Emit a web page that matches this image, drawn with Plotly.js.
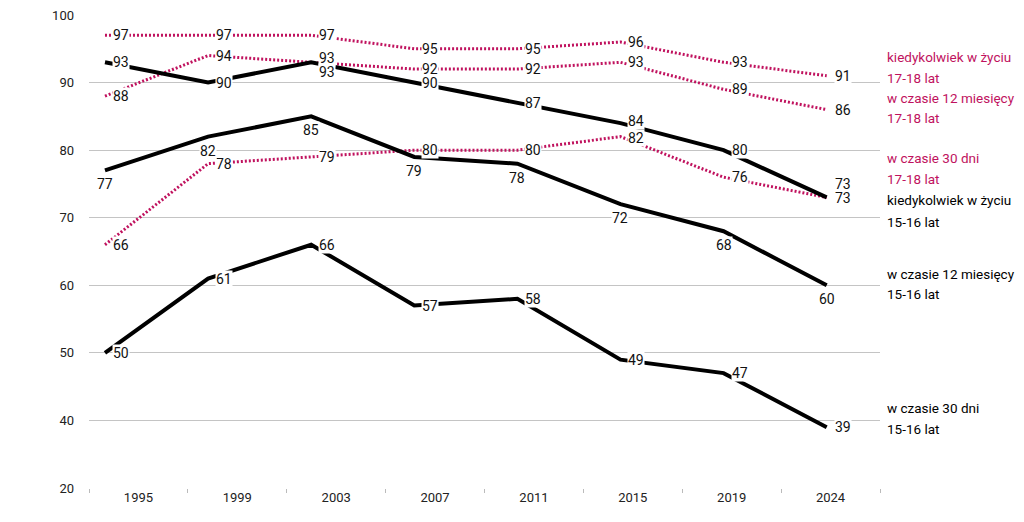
<!DOCTYPE html>
<html>
<head>
<meta charset="utf-8">
<script src="https://cdn.plot.ly/plotly-3.0.1.min.js"></script>
<style>
html,body{margin:0;padding:0;background:#fff;}
#chart{width:1024px;height:522px;}
</style>
</head>
<body>
<div id="chart"></div>
<script>
// ---- data ----
const years = ['1995','1999','2003','2007','2011','2015','2019','2024'];
const yTickVals = [30,40,50,60,70,80,90,100];
const yTickText = ['20','40','50','60','70','80','90','100'];

const lifetime1718 = [97,97,97,95,95,96,93,91];
const month12_1718 = [88,94,93,92,92,93,89,86];
const days30_1718  = [66,78,79,80,80,82,76,73];
const lifetime1516 = [93,90,93,90,87,84,80,73];
const month12_1516 = [77,82,85,79,78,72,68,60];
const days30_1516  = [50,61,66,57,58,49,47,39];

const seriesNames = ['kiedykolwiek w życiu','w czasie 12 miesięcy','w czasie 30 dni',
                     'kiedykolwiek w życiu','w czasie 12 miesięcy','w czasie 30 dni'];
const seriesAges  = ['17-18 lat','17-18 lat','17-18 lat','15-16 lat','15-16 lat','15-16 lat'];

// ---- styling ----
const PINK = '#c0125e';
const FONT = 'Roboto, "Liberation Sans", sans-serif';
const allSeries = [lifetime1718, month12_1718, days30_1718, lifetime1516, month12_1516, days30_1516];
const colors = [PINK,PINK,PINK,'#000','#000','#000'];
const idx = years.map((_, i) => i);

const traces = [{
  x: years, y: years.map(() => null), type: 'scatter', mode: 'lines', xaxis: 'x', yaxis: 'y',
  hoverinfo: 'skip', showlegend: false
}].concat(allSeries.map((vals, s) => ({
  x: idx, y: vals, type: 'scatter', mode: 'lines', xaxis: 'x2', yaxis: 'y',
  line: s < 3 ? {color: PINK, width: 3, dash: '2px,2px'} : {color: '#000', width: 4},
  hoverinfo: 'skip', showlegend: false
})));

// label placement per series: 'r' right, 'b' below
const placement = ['r','r','r','r','b','r'];
const annotations = [];
allSeries.forEach((vals, s) => {
  vals.forEach((v, i) => {
    const a = {
      x: i, y: v, xref: 'x2', yref: 'y', text: String(v), showarrow: false,
      font: {family: FONT, size: 14, color: '#111'}, bgcolor: '#fff', borderpad: 0
    };
    if (placement[s] === 'b') {
      a.xanchor = 'center'; a.yanchor = 'top'; a.yshift = -5;
    } else {
      a.xanchor = 'left'; a.yanchor = 'middle'; a.xshift = 7;
    }
    if (s === 2 && i === 7) { a.yshift = 13; a.bgcolor = 'rgba(0,0,0,0)'; }
    if (s === 3 && i === 7) { a.yshift = -1; a.bgcolor = 'rgba(0,0,0,0)'; }
    if (s === 1 && i === 2) { a.yshift = 4; }
    if (s === 3 && i === 2) { a.yshift = -10; }
    if (s === 3 && i === 5) { a.yshift = 2; }
    if (s === 2 && i === 5) { a.yshift = -1; }
    annotations.push(a);
  });
});

// series name labels on the right (two lines each)
const nameLineY = [93.8, 87.7, 78.9, 72.6, 61.7, 41.8];
const ageLineY  = [90.65, 84.7, 75.8, 69.3, 58.75, 38.7];
seriesNames.forEach((n, s) => {
  [[n, nameLineY[s]], [seriesAges[s], ageLineY[s]]].forEach(([t, yy]) => {
    annotations.push({
      x: 1.006, xref: 'paper', y: yy, yref: 'y', xanchor: 'left', yanchor: 'middle',
      text: t, align: 'left', showarrow: false,
      font: {family: FONT, size: 13.5, color: colors[s]}
    });
  });
});

const layout = {
  width: 1024, height: 522,
  margin: {l: 89, r: 144, t: 15, b: 34, pad: 0},
  paper_bgcolor: '#fff', plot_bgcolor: '#fff',
  showlegend: false,
  xaxis: {
    type: 'category', range: [-0.5, 7.5],
    tickson: 'boundaries', ticks: 'outside', ticklen: 4, tickcolor: '#bbb',
    showgrid: false, zeroline: false, showline: false,
    tickfont: {family: FONT, size: 13, color: '#222'}, fixedrange: true
  },
  xaxis2: {
    overlaying: 'x', range: [-0.155, 7.517], visible: false, fixedrange: true
  },
  yaxis: {
    range: [30, 100], tickvals: yTickVals, ticktext: yTickText,
    showgrid: true, gridcolor: '#c4c4c4', gridwidth: 1, zeroline: false, showline: false,
    ticks: '', tickfont: {family: FONT, size: 13, color: '#222'}, ticklabelstandoff: 14,
    fixedrange: true
  },
  annotations: annotations
};

Plotly.newPlot('chart', traces, layout, {displayModeBar: false, staticPlot: true});
</script>
</body>
</html>
